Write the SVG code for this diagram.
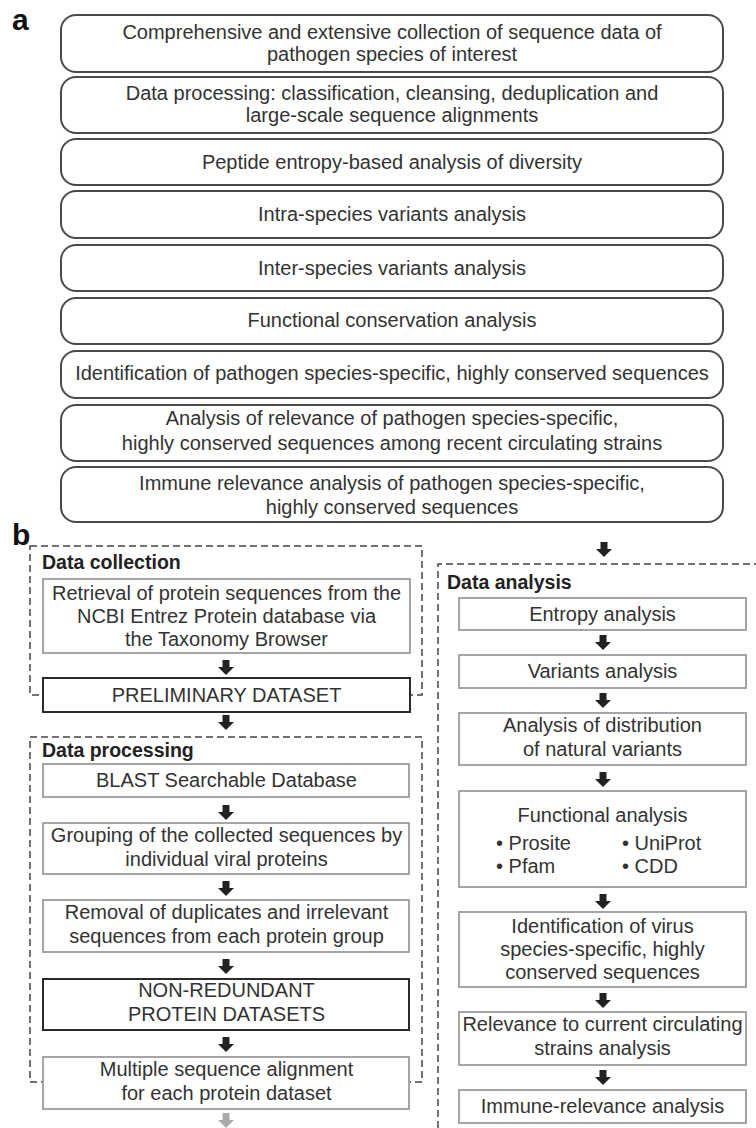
<svg xmlns="http://www.w3.org/2000/svg" xmlns:xlink="http://www.w3.org/1999/xlink" width="756" height="1128" viewBox="0 0 756 1128">
<style>
text{font-family:"Liberation Sans",Arial,sans-serif;font-size:20px;fill:#333;}
.c{text-anchor:middle;}
.lbl{font-weight:bold;font-size:30px;fill:#111;}
.hd{font-weight:bold;font-size:19.5px;fill:#222;}
.ra{fill:#fff;stroke:#4a4a4a;stroke-width:2;}
.gb{fill:#fff;stroke:#9c9c9c;stroke-width:1.8;}
.bb{fill:#fff;stroke:#2a2a2a;stroke-width:2;}
.dash{fill:none;stroke:#444;stroke-width:1.5;stroke-dasharray:7 4;}
</style>
<defs>
<path id="arr" d="M-3.5,0 h7 v7 h4.5 l-8,8 l-8,-8 h4.5 z"/>
</defs>
<rect width="756" height="1128" fill="#fff"/>

<text class="lbl" x="12" y="30">a</text>
<text class="lbl" x="12" y="545">b</text>

<!-- part a -->
<g id="a1"><rect class="ra" x="61" y="15" width="662" height="57" rx="15"/>
<text class="c" x="392" y="39">Comprehensive and extensive collection of sequence data of</text>
<text class="c" x="392" y="61">pathogen species of interest</text></g>
<g id="a2"><rect class="ra" x="61" y="77" width="662" height="56" rx="15"/>
<text class="c" x="392" y="100">Data processing: classification, cleansing, deduplication and</text>
<text class="c" x="392" y="122">large-scale sequence alignments</text></g>
<g id="a3"><rect class="ra" x="61" y="139" width="662" height="46" rx="15"/>
<text class="c" x="392" y="169">Peptide entropy-based analysis of diversity</text></g>
<g id="a4"><rect class="ra" x="61" y="191" width="662" height="47" rx="15"/>
<text class="c" x="392" y="221">Intra-species variants analysis</text></g>
<g id="a5"><rect class="ra" x="61" y="245" width="662" height="46" rx="15"/>
<text class="c" x="392" y="275">Inter-species variants analysis</text></g>
<g id="a6"><rect class="ra" x="61" y="298" width="662" height="46" rx="15"/>
<text class="c" x="392" y="327">Functional conservation analysis</text></g>
<g id="a7"><rect class="ra" x="61" y="351" width="662" height="47" rx="15"/>
<text class="c" x="392" y="380">Identification of pathogen species-specific, highly conserved sequences</text></g>
<g id="a8"><rect class="ra" x="61" y="405" width="662" height="56" rx="15"/>
<text class="c" x="392" y="425">Analysis of relevance of pathogen species-specific,</text>
<text class="c" x="392" y="450">highly conserved sequences among recent circulating strains</text></g>
<g id="a9"><rect class="ra" x="61" y="467" width="662" height="55" rx="15"/>
<text class="c" x="392" y="490">Immune relevance analysis of pathogen species-specific,</text>
<text class="c" x="392" y="514">highly conserved sequences</text></g>

<!-- part b containers -->
<g id="data-collection"><rect class="dash" x="30" y="546" width="392" height="149"/>
<text class="hd" x="42" y="569">Data collection</text></g>
<g id="data-processing"><rect class="dash" x="30" y="737" width="392" height="345"/>
<text class="hd" x="42" y="757">Data processing</text></g>
<g id="data-analysis"><path class="dash" d="M438,1128 V564 H760"/>
<text class="hd" x="447" y="589">Data analysis</text></g>

<!-- left column nodes -->
<g id="retrieval"><rect class="gb" x="43" y="579" width="367" height="74"/>
<text class="c" x="226.5" y="600">Retrieval of protein sequences from the</text>
<text class="c" x="226.5" y="623">NCBI Entrez Protein database via</text>
<text class="c" x="226.5" y="646">the Taxonomy Browser</text></g>
<g id="preliminary"><rect class="bb" x="43" y="678" width="367" height="34"/>
<text class="c" x="226.5" y="702">PRELIMINARY DATASET</text></g>
<g id="blast"><rect class="gb" x="43" y="764" width="366" height="33"/>
<text class="c" x="226.5" y="787">BLAST Searchable Database</text></g>
<g id="grouping"><rect class="gb" x="43" y="823" width="366" height="51"/>
<text class="c" x="226.5" y="842">Grouping of the collected sequences by</text>
<text class="c" x="226.5" y="866">individual viral proteins</text></g>
<g id="removal"><rect class="gb" x="43" y="900" width="366" height="52"/>
<text class="c" x="226.5" y="919">Removal of duplicates and irrelevant</text>
<text class="c" x="226.5" y="943">sequences from each protein group</text></g>
<g id="nonredundant"><rect class="bb" x="43" y="979" width="366" height="51"/>
<text class="c" x="226.5" y="997">NON-REDUNDANT</text>
<text class="c" x="226.5" y="1021">PROTEIN DATASETS</text></g>
<g id="msa"><rect class="gb" x="43" y="1057" width="366" height="52"/>
<text class="c" x="226.5" y="1076">Multiple sequence alignment</text>
<text class="c" x="226.5" y="1100">for each protein dataset</text></g>

<!-- right column nodes -->
<g id="entropy"><rect class="gb" x="459" y="598" width="287" height="32"/>
<text class="c" x="602.5" y="621">Entropy analysis</text></g>
<g id="variants"><rect class="gb" x="459" y="655" width="287" height="33"/>
<text class="c" x="602.5" y="678">Variants analysis</text></g>
<g id="distribution"><rect class="gb" x="459" y="713" width="287" height="52"/>
<text class="c" x="602.5" y="732">Analysis of distribution</text>
<text class="c" x="602.5" y="756">of natural variants</text></g>
<g id="functional"><rect class="gb" x="459" y="791" width="287" height="96"/>
<text class="c" x="602.5" y="822">Functional analysis</text>
<text x="496" y="850">• Prosite</text>
<text x="622" y="850">• UniProt</text>
<text x="496" y="873">• Pfam</text>
<text x="622" y="873">• CDD</text></g>
<g id="identification"><rect class="gb" x="459" y="912" width="287" height="75"/>
<text class="c" x="602.5" y="933">Identification of virus</text>
<text class="c" x="602.5" y="956">species-specific, highly</text>
<text class="c" x="602.5" y="979">conserved sequences</text></g>
<g id="relevance"><rect class="gb" x="459" y="1012" width="287" height="53"/>
<text class="c" x="602.5" y="1031">Relevance to current circulating</text>
<text class="c" x="602.5" y="1055">strains analysis</text></g>
<g id="immune"><rect class="gb" x="459" y="1090" width="287" height="33"/>
<text class="c" x="602.5" y="1113">Immune-relevance analysis</text></g>

<!-- connectors -->
<g id="connectors" fill="#222">
<use xlink:href="#arr" x="226" y="660"/>
<use xlink:href="#arr" x="226" y="715"/>
<use xlink:href="#arr" x="226" y="805"/>
<use xlink:href="#arr" x="226" y="881"/>
<use xlink:href="#arr" x="226" y="959"/>
<use xlink:href="#arr" x="226" y="1037"/>
<use xlink:href="#arr" x="226" y="1113" fill="#aaa"/>
<use xlink:href="#arr" x="604" y="542"/>
<use xlink:href="#arr" x="603" y="635"/>
<use xlink:href="#arr" x="603" y="693"/>
<use xlink:href="#arr" x="603" y="772"/>
<use xlink:href="#arr" x="603" y="894"/>
<use xlink:href="#arr" x="603" y="993"/>
<use xlink:href="#arr" x="603" y="1070"/>
</g>
</svg>
